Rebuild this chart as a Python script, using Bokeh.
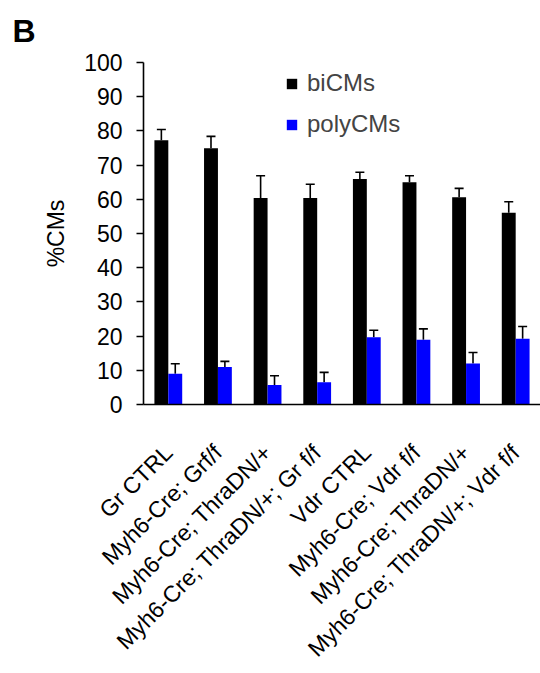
from bokeh.plotting import figure
from bokeh.models import (ColumnDataSource, Whisker, TeeHead, Legend, LegendItem,
                          Title, FixedTicker, Range1d)
from bokeh.transform import dodge
from bokeh.embed import file_html
from bokeh.resources import INLINE

groups = ["Gr CTRL", "Myh6-Cre; Grf/f", "Myh6-Cre; ThraDN/+", "Myh6-Cre; ThraDN/+; Gr f/f",
          "Vdr CTRL", "Myh6-Cre; Vdr f/f", "Myh6-Cre; ThraDN/+", "Myh6-Cre; ThraDN/+; Vdr f/f"]
bi_cms = [77.3, 74.9, 60.4, 60.4, 65.9, 65.0, 60.6, 56.1]
bi_err = [3.1, 3.5, 6.5, 4.0, 2.0, 1.9, 2.6, 3.2]
poly_cms = [9.0, 11.0, 5.7, 6.5, 19.7, 18.9, 12.0, 19.2]
poly_err = [2.9, 1.6, 2.7, 2.9, 2.0, 3.2, 3.2, 3.6]
y_ticks = [0, 10, 20, 30, 40, 50, 60, 70, 80, 90, 100]

xs = list(range(len(groups)))
src = ColumnDataSource(dict(
    x=xs, bi=bi_cms, bi_up=[v + e for v, e in zip(bi_cms, bi_err)],
    poly=poly_cms, poly_up=[v + e for v, e in zip(poly_cms, poly_err)]))

FONT = "Liberation Sans"
p = figure(width=540, height=673, output_backend="svg", toolbar_location=None,
           x_range=Range1d(-0.5, 7.5), y_range=Range1d(0, 100))
p.min_border_left = 143
p.min_border_right = 0
p.min_border_top = 61
p.min_border_bottom = 266
p.outline_line_color = None
p.xgrid.visible = False
p.ygrid.visible = False

bw = 0.28
r_bi = p.vbar(x=dodge("x", -bw / 2), top="bi", width=bw, source=src,
              fill_color="black", line_color=None)
r_poly = p.vbar(x=dodge("x", bw / 2), top="poly", width=bw, source=src,
                fill_color="#0000FF", line_color=None)

for base, lo, up in [(dodge("x", -bw / 2), "bi", "bi_up"), (dodge("x", bw / 2), "poly", "poly_up")]:
    w = Whisker(base=base, lower=lo, upper=up, source=src,
                upper_head=TeeHead(size=9, line_width=1.6, line_color="black"),
                lower_head=None, line_width=1.6, line_color="black")
    p.add_layout(w)

# axes
p.yaxis.ticker = FixedTicker(ticks=y_ticks)
p.yaxis.axis_label = "%CMs"
p.yaxis.axis_label_text_font = FONT
p.yaxis.axis_label_text_font_size = "23px"
p.yaxis.axis_label_text_font_style = "normal"
p.yaxis.axis_label_text_color = "black"
p.yaxis.axis_label_standoff = 12
p.yaxis.major_label_text_font = FONT
p.yaxis.major_label_text_font_size = "23px"
p.yaxis.major_label_text_color = "black"
p.yaxis.major_label_standoff = 14
p.yaxis.major_tick_out = 7
p.yaxis.major_tick_in = 0
p.yaxis.minor_tick_line_color = None
p.yaxis.axis_line_width = 1.6
p.yaxis.major_tick_line_width = 1.6
p.yaxis.axis_line_color = "black"

p.xaxis.ticker = FixedTicker(ticks=xs)
p.xaxis.major_label_overrides = {i: g for i, g in zip(xs, groups)}
p.xaxis.major_label_orientation = 0.785398
p.xaxis.major_label_text_font = FONT
p.xaxis.major_label_text_font_size = "23px"
p.xaxis.major_label_text_color = "black"
p.xaxis.major_label_standoff = 44
p.xaxis.major_tick_out = 0
p.xaxis.major_tick_in = 0
p.xaxis.minor_tick_line_color = None
p.xaxis.axis_line_width = 1.6
p.xaxis.axis_line_color = "black"

legend = Legend(items=[LegendItem(label="biCMs", renderers=[r_bi]),
                       LegendItem(label="polyCMs", renderers=[r_poly])],
                location=(142, 266), orientation="vertical",
                glyph_width=13, glyph_height=13, label_standoff=9,
                label_text_font=FONT, label_text_font_size="24px",
                label_height=28, spacing=13, padding=0, margin=0,
                border_line_color=None, background_fill_alpha=0)
p.add_layout(legend, "center")

p.add_layout(Title(text="B", align="left", offset=-131, standoff=24,
                   vertical_align="top", text_line_height=0.8,
                   text_font=FONT, text_font_size="32px", text_font_style="bold",
                   text_color="black"), "above")

open("out.html", "w").write(file_html(p, INLINE))
